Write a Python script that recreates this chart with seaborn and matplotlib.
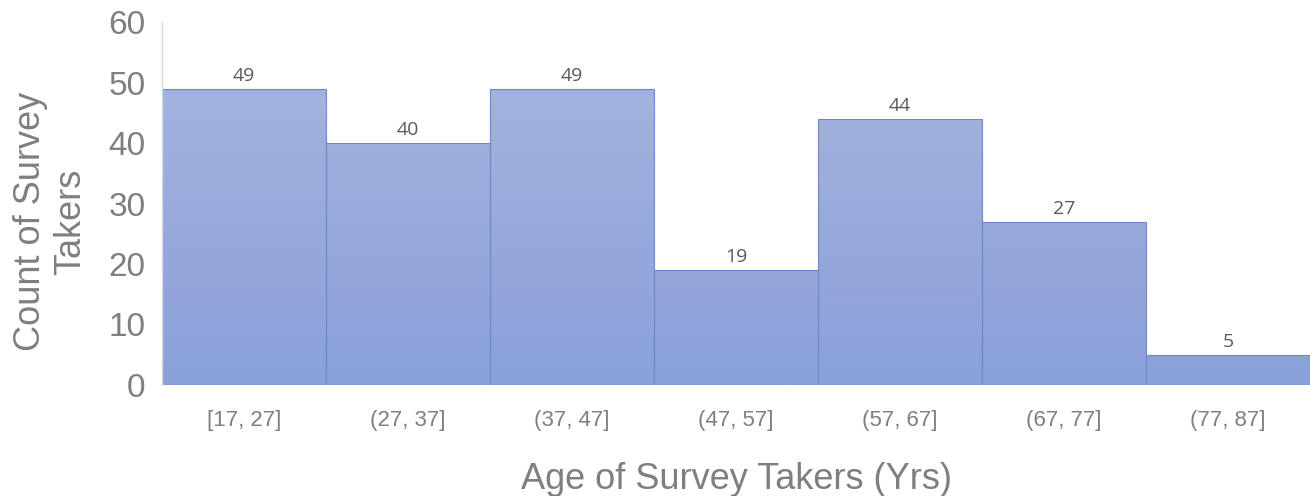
import numpy as np
import pandas as pd
import matplotlib
matplotlib.use("Agg")
import matplotlib.pyplot as plt
import seaborn as sns
from matplotlib.colors import LinearSegmentedColormap

# data
age_bins = ["[17, 27]", "(27, 37]", "(37, 47]", "(47, 57]", "(57, 67]", "(67, 77]", "(77, 87]"]
counts = [49, 40, 49, 19, 44, 27, 5]

df = pd.DataFrame({"age": age_bins, "count": counts})

sns.set_style("white")
plt.rcParams["font.family"] = ["Liberation Sans", "DejaVu Sans"]

fig = plt.figure(figsize=(13.1, 4.96), dpi=100)
ax = fig.add_axes([0.1237, 0.2238, 0.8763, 0.7318])

sns.barplot(data=df, x="age", y="count", ax=ax, width=1.0,
            color="#98a9dc", edgecolor="#6f86cb", linewidth=0.8, saturation=1)

# vertical gradient (lighter at top, darker at bottom) clipped to each bar
grad = LinearSegmentedColormap.from_list("g", ["#8aa0d9", "#a9b6e0"])
for p in ax.patches:
    x0, y0 = p.get_x(), p.get_y()
    w, h = p.get_width(), p.get_height()
    img = ax.imshow(np.linspace(0, h / 60, 100).reshape(-1, 1), cmap=grad, vmin=0, vmax=1,
                    extent=[x0, x0 + w, y0, y0 + h], origin="lower", aspect="auto", zorder=p.get_zorder())
    img.set_clip_path(p)
    p.set_facecolor("none")
    p.set_zorder(p.get_zorder() + 0.1)
ax.set_xlim(-0.5, len(age_bins) - 0.5)
ax.set_ylim(0, 60)
ax.set_aspect("auto")

for i, c in enumerate(counts):
    ax.text(i, c + 0.6, str(c), ha="center", va="bottom", fontsize=14,
            color="#595959", family=["Open Sans", "DejaVu Sans"])

ax.set_yticks(range(0, 61, 10))
ax.tick_params(axis="y", labelsize=24, labelcolor="#7f7f7f", length=0, pad=12)
ax.tick_params(axis="x", labelsize=16, labelcolor="#7f7f7f", length=0, pad=18)

ax.set_xlabel("Age of Survey Takers (Yrs)", fontsize=26, color="#7f7f7f", labelpad=22)
ax.set_ylabel("Count of Survey\nTakers", fontsize=26, color="#7f7f7f")
ax.yaxis.set_label_coords(-0.064, 0.45)

for s in ["top", "right", "bottom"]:
    ax.spines[s].set_visible(False)
ax.spines["left"].set_color("#d9d9d9")
ax.spines["left"].set_linewidth(1)

fig.savefig("out.png", dpi=100)
